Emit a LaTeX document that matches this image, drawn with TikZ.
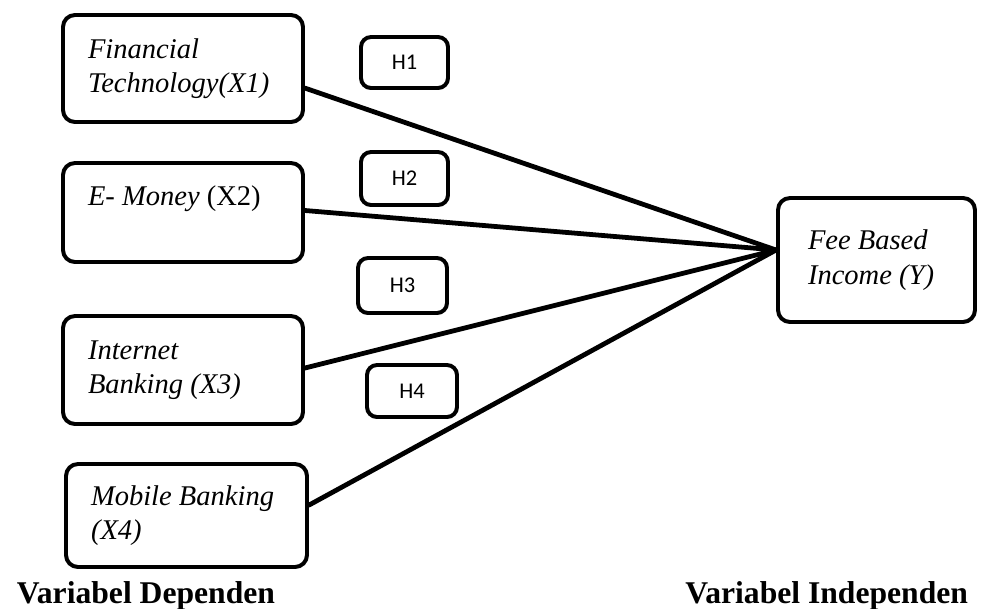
\documentclass[tikz,border=0pt]{standalone}
\usepackage{fontspec}
\setmainfont{Liberation Serif}
\newfontfamily\hfont{Carlito}
\usetikzlibrary{positioning,calc}
\tikzset{
    var box/.style={draw=black,line width=2.8pt,rounded corners=0.3cm,
        align=flush left,inner xsep=0.625cm,inner ysep=0pt,
        font=\fontsize{20.3}{24.5}\selectfont\itshape},
    hyp box/.style={draw=black,line width=2.8pt,rounded corners=0.25cm,
        font=\hfont\fontsize{16}{19}\selectfont},
    link/.style={line width=3.4pt,line cap=round}
}
\begin{document}
\begin{tikzpicture}[auto,font=\small]
    \useasboundingbox (0,0) rectangle (24.525,-15.2);
    \tikzstyle{label}=[font=\fontsize{22.5}{26}\selectfont\bfseries]

    % variabel boxes
    \node[var box, text width=4.75cm, minimum height=2.675cm] (x1) at (4.575,-1.7125) {Financial\\Technology(X1)};
    \node[var box, text width=4.75cm, minimum height=2.475cm] (x2) at (4.575,-5.3125) {E- Money \upshape(X2)\\\mbox{}};
    \node[var box, text width=4.75cm, minimum height=2.7cm] (x3) at (4.575,-9.25) {Internet\\Banking (X3)};
    \node[var box, text width=4.775cm, minimum height=2.575cm] (x4) at (4.6625,-12.8875) {Mobile Banking\\(X4)};
    \node[var box, inner xsep=0.75cm, text width=3.425cm, minimum height=3.1cm] (y) at (21.9125,-6.5) {Fee Based\\Income (Y)};

    % hipotesis
    \node[hyp box, minimum width=2.175cm, minimum height=1.275cm] (h1) at (10.1125,-1.5625) {H1};
    \node[hyp box, minimum width=2.175cm, minimum height=1.325cm] (h2) at (10.1125,-4.4625) {H2};
    \node[hyp box, minimum width=2.225cm, minimum height=1.375cm] (h3) at (10.0625,-7.1375) {H3};
    \node[hyp box, minimum width=2.25cm, minimum height=1.3cm] (h4) at (10.3,-9.775) {H4};

    \coordinate (yin) at ($(y.west)+(0,0.25)$);
    \draw[link] ([yshift=-0.49cm]x1.east) -- (yin);
    \draw[link] ([yshift=0.05cm]x2.east) -- (yin);
    \draw[link] ([yshift=0.05cm]x3.east) -- (yin);
    \draw[link] ([yshift=0.26cm]x4.east) -- (yin);

    \node[label, anchor=base west] (dep) at (0.3,-15.075) {Variabel Dependen};
    \node[label, anchor=base east] (indep) at (24.325,-15.075) {Variabel Independen};
\end{tikzpicture}
\end{document}
